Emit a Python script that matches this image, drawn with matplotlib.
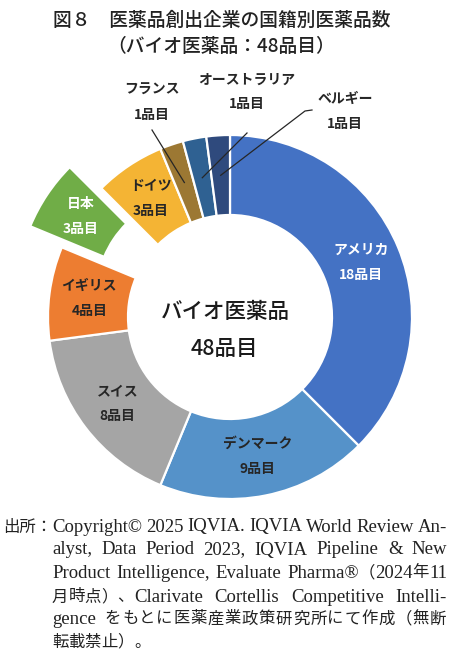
# 図8 医薬品創出企業の国籍別医薬品数（バイオ医薬品）ドーナツグラフ

import numpy as np
import matplotlib.pyplot as plt

plt.rcParams['font.family'] = ['Noto Sans CJK JP', 'DejaVu Sans']

# データ
countries = ["アメリカ", "デンマーク", "スイス", "イギリス", "日本",
             "ドイツ", "フランス", "オーストラリア", "ベルギー"]
counts = [18, 9, 8, 4, 3, 3, 1, 1, 1]
unit = "品目"
colors = ["#4472C4", "#5592C9", "#A5A5A5", "#ED7D31", "#70AD47",
          "#F4B434", "#9C7833", "#2F6192", "#2F4A7D"]
label_colors = ["white", "#262626", "#262626", "#262626", "white", "#262626"]
exploded = "日本"
outside = ["フランス", "オーストラリア", "ベルギー"]

title_lines = ["図８　医薬品創出企業の国籍別医薬品数", "（バイオ医薬品：48品目）"]
center_lines = ["バイオ医薬品", "48品目"]
source_head = "出所："
source_lines = [
    "Copyright© 2025 IQVIA. IQVIA World Review An-",
    "alyst, Data Period 2023, IQVIA Pipeline & New",
    "Product Intelligence, Evaluate Pharma®（2024年11",
    "月時点）、Clarivate Cortellis Competitive Intelli-",
    "gence をもとに医薬産業政策研究所にて作成（無断",
    "転載禁止）。",
]

# レイアウト（ピクセル単位）
W, H = 450, 658
cx, cy = 230, H - 317
R_out, R_in = 182, 102
r_lab = (R_out + R_in) / 2
explode_px = 38
outside_pos = {  # name位置, value位置, 線の始点
    "フランス": ((152, 90), (152, 115), [(152, 130)]),
    "オーストラリア": ((247, 80), (247, 104), [(247, 133)]),
    "ベルギー": ((345, 99), (345, 124), [(312, 110), (305, 111)]),
}
lab_size = 10

fig = plt.figure(figsize=(W / 100, H / 100), dpi=100)
ax = fig.add_axes([0, 0, 1, 1])

explode = [explode_px if c == exploded else 0 for c in countries]
ax.pie(counts, colors=colors, startangle=90, counterclock=False,
       radius=R_out, center=(cx, cy), explode=explode,
       wedgeprops=dict(width=R_out - R_in, edgecolor="white", linewidth=1.6))
ax.set_xlim(0, W)
ax.set_ylim(0, H)
ax.axis("off")

total = sum(counts)
cum = np.cumsum([0] + counts[:-1])
for i, (c, v) in enumerate(zip(countries, counts)):
    ang = np.deg2rad((cum[i] + v / 2) / total * 360)
    x = cx + (r_lab + explode[i]) * np.sin(ang)
    y = cy + (r_lab + explode[i]) * np.cos(ang)
    if c in outside:
        (nx, ny), (vx, vy), pts = outside_pos[c]
        ax.text(nx, H - ny, c, ha="center", va="center", fontsize=lab_size,
                fontweight="bold", color="#262626")
        ax.text(vx, H - vy, f"{v}{unit}", ha="center", va="center",
                fontsize=lab_size, fontweight="bold", color="#262626")
        xs = [p[0] for p in pts] + [x]
        ys = [H - p[1] for p in pts] + [y]
        ax.plot(xs, ys, color="#262626", lw=0.9)
    else:
        ax.text(x, y + 12.5, c, ha="center", va="center", fontsize=lab_size,
                fontweight="bold", color=label_colors[i])
        ax.text(x, y - 12.5, f"{v}{unit}", ha="center", va="center",
                fontsize=lab_size, fontweight="bold", color=label_colors[i])

# 中央テキスト
ax.text(225, H - 312, center_lines[0], ha="center", va="center",
        fontsize=15.5, fontweight="medium", color="#1a1a1a")
ax.text(224, H - 349, center_lines[1], ha="center", va="center",
        fontsize=15.5, fontweight="medium", color="#1a1a1a")

# タイトル
ax.text(222, H - 20, title_lines[0], ha="center", va="center",
        fontsize=13.5, fontweight="medium", color="#222222")
ax.text(221, H - 47, title_lines[1], ha="center", va="center",
        fontsize=13.5, fontweight="medium", color="#222222")

# 出所（両端揃え、欧文と和文でサイズを変える）
lat_font, lat_size = "Liberation Serif", 13.5
cjk_font, cjk_size = "Noto Sans CJK JP", 11.8
src_color = "#222222"
line_y = [527, 550, 573, 597, 619, 642]
x0, x1 = 52, 447
max_gap = 20


def is_cjk(ch):
    return ord(ch) >= 0x2E80


def split_runs(word):
    # 和文は1文字ずつ、欧文はまとめて
    runs = []
    for ch in word:
        k = is_cjk(ch)
        if runs and not k and not runs[-1][1]:
            runs[-1][0] += ch
        else:
            runs.append([ch, k])
    return runs


ax.text(3, H - line_y[0], source_head, ha="left", va="center",
        fontsize=cjk_size, family=cjk_font, color=src_color)
fig.canvas.draw()
rend = fig.canvas.get_renderer()
for k, line in enumerate(source_lines):
    words = line.split(" ")
    groups = []
    for w in words:
        parts = []
        for s, cjk in split_runs(w):
            t = ax.text(0, H - line_y[k], s, ha="left", va="center",
                        fontsize=cjk_size if cjk else lat_size,
                        family=cjk_font if cjk else lat_font, color=src_color)
            parts.append((t, t.get_window_extent(rend).width, cjk))
        groups.append(parts)
    nat = sum(p[1] for g in groups for p in g)
    n_gaps = len(words) - 1
    n_cjk = sum(p[2] for g in groups for p in g)
    if k == len(source_lines) - 1:
        gap, track = 4.5, 0.0
    else:
        slack = x1 - x0 - nat
        gap = slack / n_gaps if n_gaps else 0.0
        if gap > max_gap and n_cjk:
            gap = 9
        track = (slack - gap * n_gaps) / n_cjk if n_cjk else 0.0
    x = x0
    for g in groups:
        for t, w, cjk in g:
            t.set_x(x)
            x += w + (track if cjk else 0)
        x += gap

fig.savefig("out.png", dpi=100)
